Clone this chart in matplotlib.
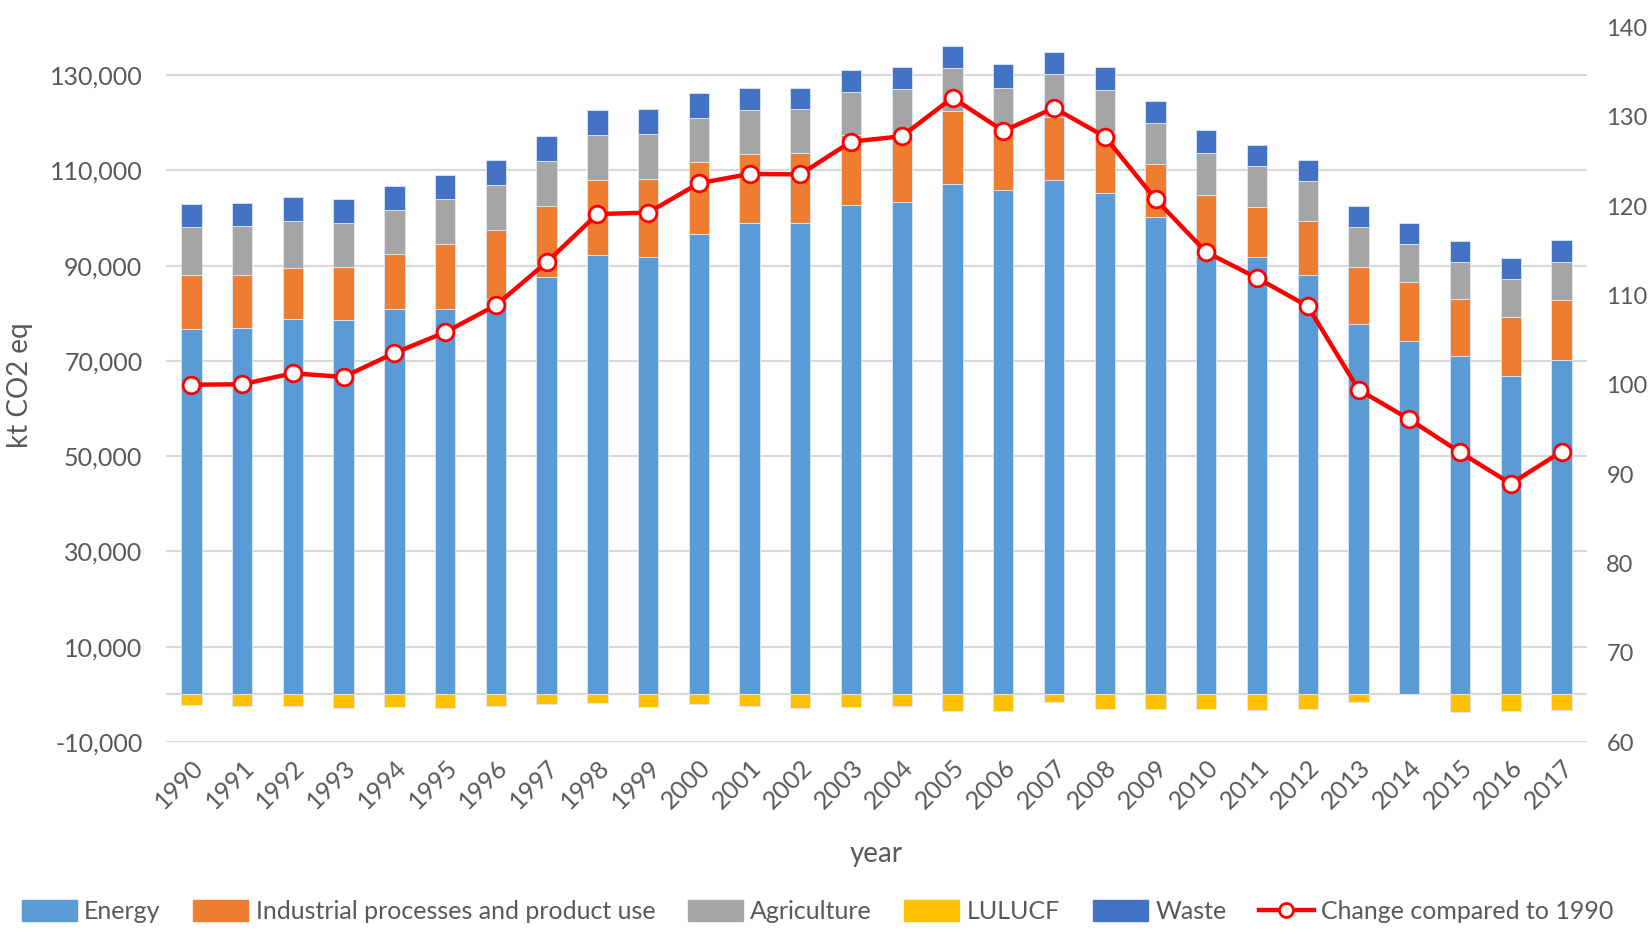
import matplotlib.pyplot as plt
import numpy as np
from matplotlib.ticker import FuncFormatter
from matplotlib.lines import Line2D
from matplotlib.patches import Patch

plt.rcParams['font.family'] = ['Lato', 'DejaVu Sans']

years = list(range(1990, 2018))

# stack tops (kt CO2 eq)
energy_top = [76770, 76980, 78870, 78660, 80840, 80840, 83060, 87550, 92300, 91820,
              96580, 99010, 98890, 102670, 103290, 107070, 105810, 108040, 105180, 100210,
              92000, 91820, 88040, 77750, 74250, 70970, 66780, 70140]
industry_top = [88040, 88100, 89440, 89650, 92380, 94480, 97410, 102450, 107910, 108180,
                111750, 113490, 113580, 117420, 117280, 122520, 118120, 121130, 118120, 111400,
                104760, 102240, 99300, 89650, 86500, 82940, 79290, 82870]
agri_top = [98180, 98320, 99370, 98950, 101610, 103990, 106930, 111960, 117420, 117630,
            120990, 122730, 122880, 126440, 127070, 131480, 127350, 130160, 126860, 119940,
            113640, 110910, 107760, 98110, 94610, 90770, 87140, 90700]
waste_top = [103000, 103150, 104400, 103920, 106720, 109090, 112240, 117210, 122730, 122880,
             126230, 127280, 127280, 131000, 131690, 136160, 132320, 134900, 131620, 124490,
             118400, 115380, 112090, 102450, 99010, 95240, 91610, 95320]
lulucf = [-2200, -2350, -2480, -2900, -2690, -2900, -2410, -2000, -1850, -2560,
          -1920, -2410, -2770, -2560, -2490, -3390, -3390, -1500, -2970, -3110,
          -3110, -3180, -3110, -1570, 0, -3740, -3460, -3180]
change = [100.0, 100.05, 101.28, 100.87, 103.55, 105.87, 108.89, 113.70, 119.11, 119.26,
          122.55, 123.59, 123.55, 127.21, 127.81, 132.13, 128.40, 130.98, 127.77, 120.76,
          114.83, 111.95, 108.78, 99.45, 96.13, 92.44, 88.92, 92.51]

energy = np.array(energy_top)
industry = np.array(industry_top) - np.array(energy_top)
agri = np.array(agri_top) - np.array(industry_top)
waste = np.array(waste_top) - np.array(agri_top)

c_energy = '#5B9BD5'
c_ind = '#ED7D31'
c_agri = '#A5A5A5'
c_lulucf = '#FFC000'
c_waste = '#4472C4'
txt = '#595959'

fig = plt.figure(figsize=(16.52, 9.38), dpi=100)
ax = fig.add_axes([0.1005, 0.2089, 0.8601, 0.7619])

x = np.arange(len(years))
w = 0.4
ec = dict(edgecolor='#DDE8F5', linewidth=0.6)
ax.bar(x, energy, w, color=c_energy, zorder=3, **ec)
ax.bar(x, industry, w, bottom=energy, color=c_ind, zorder=3, **ec)
ax.bar(x, agri, w, bottom=energy + industry, color=c_agri, zorder=3, **ec)
ax.bar(x, lulucf, w, color=c_lulucf, zorder=3, **ec)
ax.bar(x, waste, w, bottom=energy + industry + agri, color=c_waste, zorder=3, **ec)

ax.set_xlim(-0.5, len(years) - 0.5)
ax.set_ylim(-10000, 140000)
ax.set_yticks(np.arange(-10000, 140000, 20000))
ax.yaxis.set_major_formatter(FuncFormatter(lambda v, p: f'{int(v):,}'))
ax.grid(axis='y', color='#D9D9D9', linewidth=1.5, zorder=0)
ax.axhline(0, color='#D9D9D9', linewidth=1.5, zorder=1)
for s in ax.spines.values():
    s.set_visible(False)
ax.tick_params(axis='y', length=0, labelsize=18, colors=txt, pad=17)
ax.tick_params(axis='x', length=0, labelsize=18, colors=txt, pad=10)
ax.set_xticks(x)
ax.set_xticklabels([str(y) for y in years], rotation=45, ha='right',
                   rotation_mode='anchor')
ax.set_ylabel('kt CO2 eq', fontsize=20, color=txt, labelpad=12)
ax.set_xlabel('year', fontsize=20, color=txt, labelpad=20)

ax2 = ax.twinx()
ax2.set_ylim(60, 140)
ax2.set_yticks(np.arange(60, 141, 10))
ax2.plot(x, change, color='#FF0000', linewidth=3.2, marker='o', markersize=12,
         markerfacecolor='white', markeredgecolor='#FF0000', markeredgewidth=2,
         zorder=5)
for s in ax2.spines.values():
    s.set_visible(False)
ax2.tick_params(axis='y', length=0, labelsize=17, colors=txt, pad=14)

handles = [Patch(color=c_energy), Patch(color=c_ind), Patch(color=c_agri),
           Patch(color=c_lulucf), Patch(color=c_waste),
           Line2D([], [], color='#FF0000', linewidth=3.2, marker='o', markersize=10,
                  markerfacecolor='white', markeredgecolor='#FF0000',
                  markeredgewidth=2)]
labels = ['Energy', 'Industrial processes and product use', 'Agriculture',
          'LULUCF', 'Waste', 'Change compared to 1990']
leg = fig.legend(handles, labels, loc='lower center', ncol=6,
                 bbox_to_anchor=(0.495, -0.008), frameon=False, fontsize=18,
                 handlelength=2.2, handleheight=0.9, handletextpad=0.3,
                 columnspacing=1.3, labelcolor=txt)

fig.savefig('out.png', dpi=100)
